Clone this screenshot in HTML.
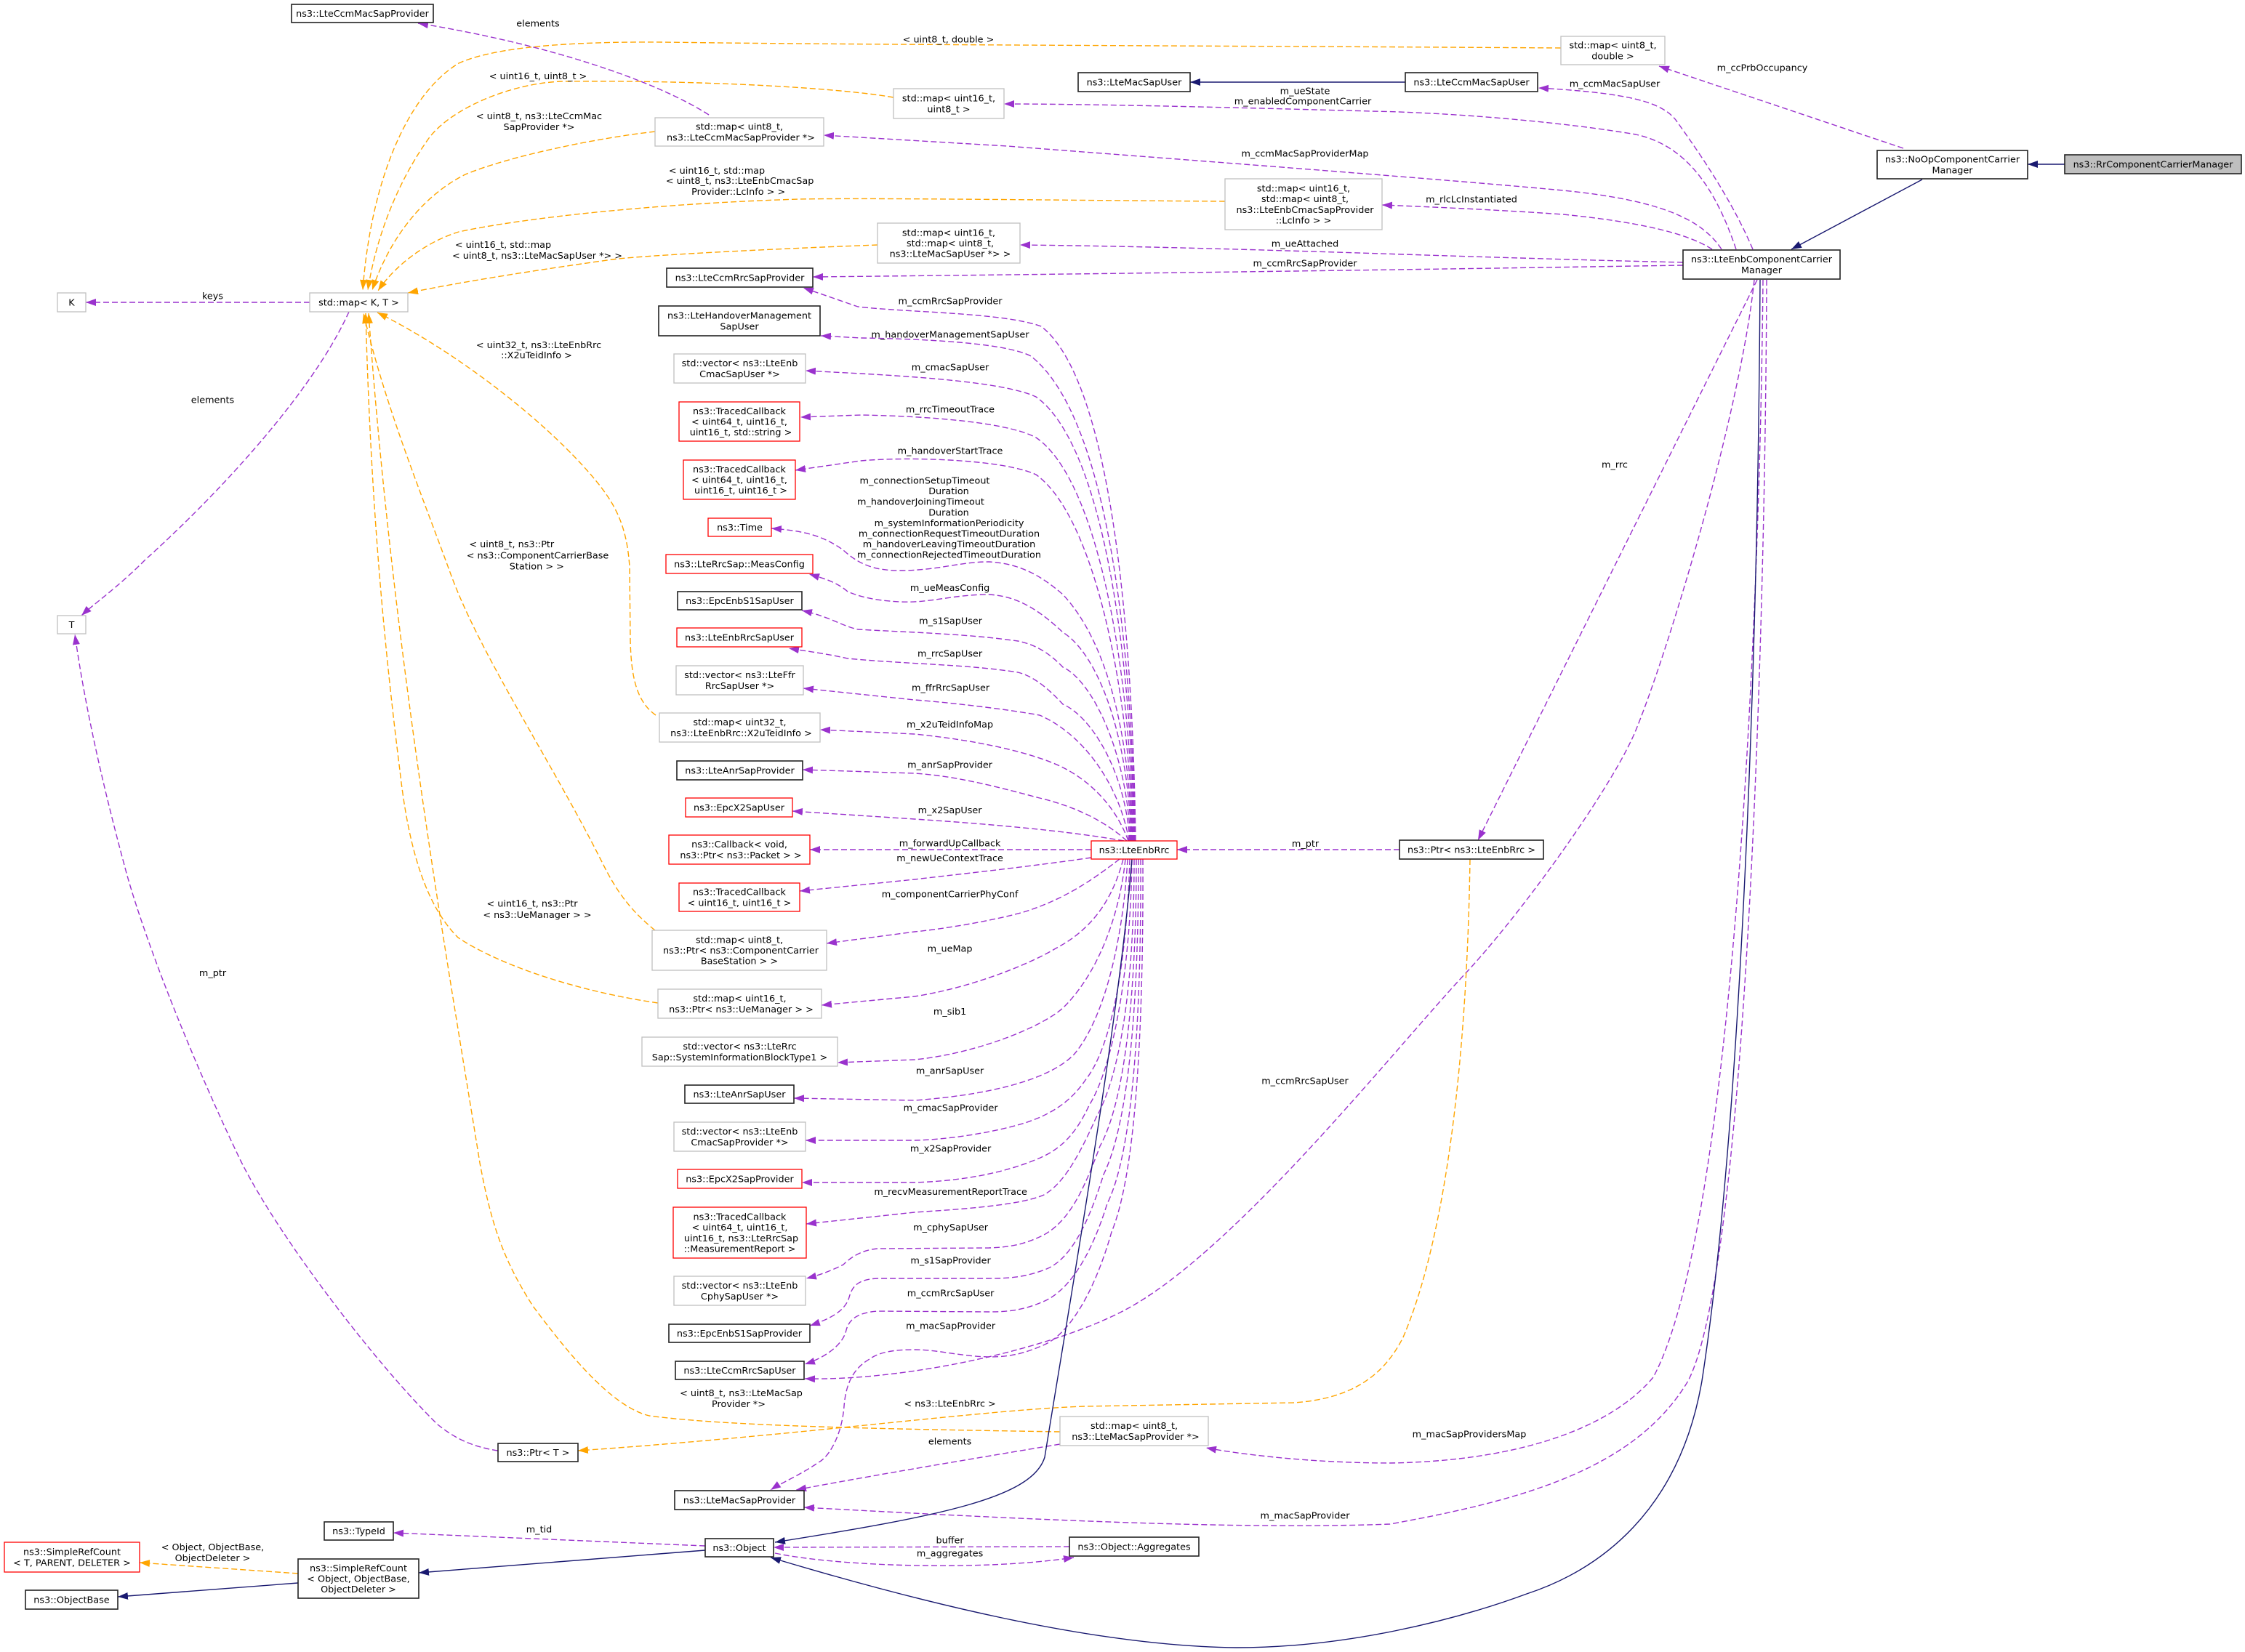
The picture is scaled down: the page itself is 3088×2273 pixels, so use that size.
<!DOCTYPE html>
<html><head><meta charset="utf-8"><style>
html,body{margin:0;padding:0;background:#fff;}
svg{display:block;}
.t{font-family:"DejaVu Sans","Liberation Sans",sans-serif;font-size:12.8px;fill:#000;text-anchor:middle;}
.p{fill:none;stroke:#9a32cd;stroke-width:1.4;stroke-dasharray:8 4;marker-end:url(#ap);}
.o{fill:none;stroke:#ffa500;stroke-width:1.4;stroke-dasharray:8 4;marker-end:url(#ao);}
.n{fill:none;stroke:#191970;stroke-width:1.4;marker-end:url(#an);}
.b{fill:#fff;stroke:#222;stroke-width:1.6;}
.g{fill:#fff;stroke:#bfbfbf;stroke-width:1.3;}
.r{fill:#fff;stroke:#ff0000;stroke-width:1.3;}
</style></head><body>
<svg width="3088" height="2273" viewBox="0 0 3088 2273" xmlns="http://www.w3.org/2000/svg">
<defs>
<marker id="ap" markerUnits="userSpaceOnUse" markerWidth="15" markerHeight="12" refX="14" refY="6" orient="auto" viewBox="0 0 15 12"><path d="M0,1 L14,6 L0,11 Z" fill="#9a32cd"/></marker>
<marker id="ao" markerUnits="userSpaceOnUse" markerWidth="15" markerHeight="12" refX="14" refY="6" orient="auto" viewBox="0 0 15 12"><path d="M0,1 L14,6 L0,11 Z" fill="#ffa500"/></marker>
<marker id="an" markerUnits="userSpaceOnUse" markerWidth="15" markerHeight="12" refX="14" refY="6" orient="auto" viewBox="0 0 15 12"><path d="M0,1 L14,6 L0,11 Z" fill="#191970"/></marker>
</defs>
<rect width="3088" height="2273" fill="#fff"/>

<!-- purple usage edges -->
<path class="p" d="M975,158 C900,110 750,60 575,32"/>
<path class="p" d="M2618,204 L2282,91"/>
<path class="p" d="M2411,343 C2380,270 2330,200 2305,165 C2285,140 2240,128 2116,121"/>
<path class="p" d="M2388,343 C2360,260 2320,200 2250,185 C2150,168 2000,155 1887,153 C1700,148 1500,143 1381,143"/>
<path class="p" d="M2368,343 C2340,300 2280,275 2150,262 C2000,248 1700,225 1385,201 L1133,186"/>
<path class="p" d="M2355,343 C2320,320 2250,305 2150,295 C2050,288 1950,284 1901,282"/>
<path class="p" d="M2315,361 C2000,354 1700,340 1403,337"/>
<path class="p" d="M2315,365 C2000,370 1600,376 1118,381"/>
<path class="p" d="M2417,385 L2033,1156"/>
<path class="p" d="M2413,385 C2395,560 2300,880 2252,1000 C2221,1080 2090,1260 2016,1339 C1916,1446 1700,1720 1550,1801 C1450,1855 1250,1900 1107,1897"/>
<path class="p" d="M2425,385 C2420,900 2380,1700 2274,1895 C2220,1960 2100,2010 1912,2013 C1800,2013 1700,2000 1659,1992"/>
<path class="p" d="M2430,385 C2428,900 2400,1750 2322,1900 C2250,2020 2100,2063 1912,2097 C1700,2105 1400,2090 1106,2074"/>
<path class="p" d="M1925,1169 L1619,1169"/>

<path class="p" d="M1562,1157 C1558,850 1525,520 1432,449 C1380,430 1250,430 1180,422 L1105,396"/>
<path class="p" d="M1561,1157 C1557,870 1520,570 1418,490 C1380,470 1250,466 1184,465 L1129,462"/>
<path class="p" d="M1560,1157 C1556,890 1515,610 1425,546 C1380,525 1250,518 1184,514 L1108,510"/>
<path class="p" d="M1559,1157 C1555,920 1510,660 1425,602 C1380,578 1250,572 1184,571 L1101,574"/>
<path class="p" d="M1558,1157 C1554,950 1505,710 1425,653 C1380,632 1250,628 1184,634 L1094,647"/>
<path class="p" d="M1557,1157 C1553,1000 1520,880 1462,818 C1430,790 1400,775 1360,773 C1320,773 1290,785 1237,785 C1200,785 1180,775 1160,757 C1130,735 1100,730 1061,727"/>
<path class="p" d="M1556,1157 C1552,1010 1510,900 1462,870 C1430,840 1400,820 1360,818 C1310,818 1280,830 1237,828 C1200,826 1180,820 1166,814 C1150,800 1130,795 1113,790"/>
<path class="p" d="M1555,1157 C1550,1030 1500,935 1462,918 C1440,895 1420,886 1400,882 C1330,872 1250,870 1180,866 C1160,862 1140,848 1103,840"/>
<path class="p" d="M1554,1157 C1548,1060 1500,985 1462,969 C1440,945 1420,930 1400,925 C1330,914 1250,914 1166,906 C1140,900 1110,896 1085,892"/>
<path class="p" d="M1553,1157 C1540,1080 1490,1010 1430,984 C1380,975 1300,966 1258,963 L1105,947"/>
<path class="p" d="M1552,1157 C1535,1110 1500,1075 1462,1056 C1420,1035 1340,1018 1258,1010 L1128,1004"/>
<path class="p" d="M1550,1157 C1520,1130 1480,1110 1430,1098 C1380,1085 1320,1068 1258,1064 L1104,1059"/>
<path class="p" d="M1546,1157 C1480,1145 1380,1135 1258,1127 L1090,1116"/>
<path class="p" d="M1501,1169 L1114,1169"/>
<path class="p" d="M1501,1180 C1420,1192 1300,1205 1258,1210 L1100,1226"/>
<path class="p" d="M1540,1182 C1510,1205 1470,1235 1411,1254 C1370,1266 1300,1278 1258,1282 L1137,1298"/>
<path class="p" d="M1545,1182 C1530,1240 1500,1280 1452,1305 C1410,1330 1330,1360 1258,1371 L1130,1383"/>
<path class="p" d="M1548,1182 C1540,1260 1510,1340 1462,1387 C1430,1415 1340,1450 1258,1458 L1152,1462"/>
<path class="p" d="M1551,1182 C1545,1290 1520,1400 1478,1450 C1450,1480 1380,1505 1258,1514 L1092,1511"/>
<path class="p" d="M1554,1182 C1550,1320 1530,1440 1493,1486 C1470,1520 1440,1535 1410,1545 C1360,1560 1300,1568 1258,1569 L1108,1569"/>
<path class="p" d="M1557,1182 C1555,1340 1530,1470 1498,1521 C1480,1560 1460,1580 1431,1593 C1380,1615 1320,1625 1258,1627 L1103,1627"/>
<path class="p" d="M1560,1182 C1560,1360 1540,1480 1508,1537 C1480,1600 1460,1630 1436,1644 C1400,1660 1300,1665 1258,1668 L1109,1684"/>
<path class="p" d="M1563,1182 C1563,1380 1545,1520 1513,1577 C1490,1640 1470,1680 1436,1699 C1410,1712 1390,1716 1360,1717 L1207,1718 C1185,1720 1170,1730 1160,1740 C1140,1750 1125,1755 1109,1759"/>
<path class="p" d="M1566,1182 C1566,1400 1550,1550 1518,1616 C1495,1690 1470,1735 1437,1747 C1410,1757 1390,1759 1360,1759 L1207,1759 C1180,1760 1172,1770 1168,1785 C1162,1805 1140,1815 1114,1824"/>
<path class="p" d="M1569,1182 C1570,1420 1556,1590 1523,1656 C1500,1730 1470,1775 1437,1790 C1410,1802 1390,1805 1360,1805 L1207,1804 C1180,1806 1168,1815 1164,1830 C1160,1850 1135,1868 1107,1877"/>
<path class="p" d="M1572,1182 C1573,1440 1560,1620 1529,1695 C1505,1780 1470,1835 1437,1850 C1410,1862 1390,1867 1360,1867 C1320,1866 1290,1857 1258,1857 C1230,1857 1210,1860 1196,1870 C1170,1885 1163,1910 1161,1935 C1158,1975 1140,2005 1126,2012 C1100,2030 1075,2040 1060,2050"/>
<path class="p" d="M1458,1987 C1350,2005 1200,2030 1095,2050"/>
<path class="p" d="M970,2127 L541,2109"/>
<path class="p" d="M1471,2128 L1064,2129"/>
<path class="p" d="M1066,2137 C1150,2155 1350,2162 1477,2143"/>
<path class="p" d="M480,429 C430,540 300,680 200,770 C160,810 130,830 112,847"/>
<path class="p" d="M426,416 L118,416"/>
<path class="p" d="M685,1996 C645,1990 622,1976 602,1960 C520,1880 385,1705 331,1597 C270,1470 205,1310 175,1205 C145,1095 118,980 103,873"/>

<!-- orange template edges -->
<path class="o" d="M2147,66 C1700,63 1200,62 912,58 C780,57 680,65 631,87 C560,130 510,250 499,399"/>
<path class="o" d="M1229,134 C1150,120 950,110 772,112 C700,115 620,150 590,190 C540,260 515,340 506,399"/>
<path class="o" d="M901,181 C820,190 700,215 640,240 C580,270 535,330 512,399"/>
<path class="o" d="M1685,277 C1500,276 1200,272 1100,274 C900,280 720,300 631,319 C580,335 540,370 520,400"/>
<path class="o" d="M1207,337 C1100,341 900,350 842,357 C750,370 650,385 561,403"/>
<path class="o" d="M902,984 C875,965 868,930 867,880 L866,780 C862,720 845,690 810,650 C740,570 620,480 519,430"/>
<path class="o" d="M901,1280 C870,1255 850,1230 830,1190 C760,1050 660,900 620,790 C580,680 530,560 500,431"/>
<path class="o" d="M905,1380 C800,1365 690,1330 630,1290 C580,1240 560,1150 550,1060 C530,900 510,700 503,431"/>
<path class="o" d="M1458,1970 C1200,1966 1000,1962 893,1948 C840,1935 780,1860 733,1797 C690,1730 675,1680 660,1600 C620,1350 540,900 507,431"/>
<path class="o" d="M2022,1182 C2018,1450 1990,1700 1930,1840 C1900,1900 1850,1925 1780,1930 L1491,1935 C1350,1940 1100,1975 795,1996"/>
<path class="o" d="M410,2165 L192,2150"/>

<!-- navy inheritance edges -->
<path class="n" d="M2840,226 L2789,226"/>
<path class="n" d="M2644,247 L2464,343"/>
<path class="n" d="M1933,113 L1637,113"/>
<path class="n" d="M2421,385 C2418,900 2395,1550 2341,1900 C2310,2080 2200,2160 2100,2193 C2000,2230 1850,2267 1701,2267 C1500,2265 1250,2200 1060,2143"/>
<path class="n" d="M1557,1182 C1540,1400 1470,1800 1437,2005 C1420,2060 1300,2085 1066,2122"/>
<path class="n" d="M970,2133 L576,2164"/>
<path class="n" d="M410,2178 L162,2197"/>

<!-- nodes -->
<rect x="2840" y="213" width="243" height="26" fill="#bfbfbf" stroke="#222" stroke-width="1.6"/>
<rect class="b" x="2582" y="207" width="207" height="39"/>
<rect class="b" x="2315" y="344" width="216" height="40"/>
<rect class="g" x="2147" y="50" width="143" height="39"/>
<rect class="b" x="1933" y="100" width="182" height="26"/>
<rect class="b" x="1483" y="100" width="154" height="26"/>
<rect class="g" x="1229" y="122" width="152" height="41"/>
<rect class="g" x="901" y="162" width="232" height="39"/>
<rect class="g" x="1685" y="246" width="216" height="70"/>
<rect class="g" x="1207" y="307" width="196" height="55"/>
<rect class="b" x="917" y="369" width="201" height="26"/>
<rect class="b" x="906" y="421" width="222" height="41"/>
<rect class="g" x="927" y="487" width="181" height="40"/>
<rect class="r" x="934" y="553" width="166" height="54"/>
<rect class="r" x="940" y="633" width="154" height="54"/>
<rect class="r" x="974" y="713" width="87" height="25"/>
<rect class="r" x="916" y="763" width="202" height="26"/>
<rect class="b" x="932" y="814" width="171" height="25"/>
<rect class="r" x="931" y="864" width="172" height="26"/>
<rect class="g" x="930" y="916" width="175" height="40"/>
<rect class="g" x="907" y="981" width="221" height="40"/>
<rect class="b" x="931" y="1047" width="173" height="26"/>
<rect class="r" x="943" y="1098" width="147" height="26"/>
<rect class="r" x="920" y="1149" width="194" height="40"/>
<rect class="r" x="934" y="1215" width="166" height="39"/>
<rect class="g" x="897" y="1280" width="240" height="55"/>
<rect class="g" x="905" y="1361" width="225" height="40"/>
<rect class="g" x="883" y="1427" width="269" height="40"/>
<rect class="b" x="942" y="1493" width="150" height="25"/>
<rect class="g" x="927" y="1544" width="181" height="40"/>
<rect class="r" x="932" y="1609" width="171" height="26"/>
<rect class="r" x="926" y="1661" width="183" height="70"/>
<rect class="g" x="927" y="1756" width="181" height="40"/>
<rect class="b" x="920" y="1822" width="194" height="25"/>
<rect class="b" x="929" y="1873" width="177" height="25"/>
<rect class="g" x="1458" y="1949" width="204" height="40"/>
<rect class="b" x="928" y="2051" width="178" height="26"/>
<rect class="b" x="685" y="1986" width="110" height="25"/>
<rect class="b" x="446" y="2094" width="95" height="25"/>
<rect class="b" x="970" y="2117" width="94" height="25"/>
<rect class="b" x="1471" y="2115" width="178" height="26"/>
<rect class="b" x="410" y="2145" width="166" height="54"/>
<rect class="r" x="6" y="2122" width="186" height="41"/>
<rect class="b" x="35" y="2188" width="127" height="26"/>
<rect class="g" x="426" y="403" width="135" height="26"/>
<rect class="g" x="79" y="403" width="39" height="26"/>
<rect class="g" x="79" y="847" width="39" height="25"/>
<rect class="r" x="1501" y="1157" width="118" height="25"/>
<rect class="b" x="1925" y="1156" width="198" height="26"/>
<rect class="b" x="401" y="6" width="195" height="25"/>

<!-- node labels -->
<text class="t" x="2961.5" y="230.5">ns3::RrComponentCarrierManager</text>
<text class="t" x="2685.5" y="223.7">ns3::NoOpComponentCarrier</text>
<text class="t" x="2685.5" y="238.3">Manager</text>
<text class="t" x="2423" y="361.2">ns3::LteEnbComponentCarrier</text>
<text class="t" x="2423" y="375.8">Manager</text>
<text class="t" x="2218.5" y="66.7">std::map&lt; uint8_t,</text>
<text class="t" x="2218.5" y="81.3">double &gt;</text>
<text class="t" x="2024" y="117.5">ns3::LteCcmMacSapUser</text>
<text class="t" x="1560" y="117.5">ns3::LteMacSapUser</text>
<text class="t" x="1305" y="139.7">std::map&lt; uint16_t,</text>
<text class="t" x="1305" y="154.3">uint8_t &gt;</text>
<text class="t" x="1017" y="178.7">std::map&lt; uint8_t,</text>
<text class="t" x="1019" y="193.3">ns3::LteCcmMacSapProvider *&gt;</text>
<text class="t" x="1793" y="263.6">std::map&lt; uint16_t,</text>
<text class="t" x="1795" y="278.2">std::map&lt; uint8_t,</text>
<text class="t" x="1795" y="292.8">ns3::LteEnbCmacSapProvider</text>
<text class="t" x="1793" y="307.4">::LcInfo &gt; &gt;</text>
<text class="t" x="1305" y="324.4">std::map&lt; uint16_t,</text>
<text class="t" x="1307" y="339">std::map&lt; uint8_t,</text>
<text class="t" x="1307" y="353.6">ns3::LteMacSapUser *&gt; &gt;</text>
<text class="t" x="1017.5" y="386.5">ns3::LteCcmRrcSapProvider</text>
<text class="t" x="1017" y="438.7">ns3::LteHandoverManagement</text>
<text class="t" x="1017" y="453.3">SapUser</text>
<text class="t" x="1017.5" y="504.2">std::vector&lt; ns3::LteEnb</text>
<text class="t" x="1017.5" y="518.8">CmacSapUser *&gt;</text>
<text class="t" x="1017" y="569.9">ns3::TracedCallback</text>
<text class="t" x="1017" y="584.5">&lt; uint64_t, uint16_t,</text>
<text class="t" x="1019" y="599.1">uint16_t, std::string &gt;</text>
<text class="t" x="1017" y="649.9">ns3::TracedCallback</text>
<text class="t" x="1017" y="664.5">&lt; uint64_t, uint16_t,</text>
<text class="t" x="1019" y="679.1">uint16_t, uint16_t &gt;</text>
<text class="t" x="1017.5" y="730">ns3::Time</text>
<text class="t" x="1017" y="780.5">ns3::LteRrcSap::MeasConfig</text>
<text class="t" x="1017.5" y="831">ns3::EpcEnbS1SapUser</text>
<text class="t" x="1017" y="881.5">ns3::LteEnbRrcSapUser</text>
<text class="t" x="1017.5" y="933.2">std::vector&lt; ns3::LteFfr</text>
<text class="t" x="1017.5" y="947.8">RrcSapUser *&gt;</text>
<text class="t" x="1017.5" y="998.2">std::map&lt; uint32_t,</text>
<text class="t" x="1019.5" y="1012.8">ns3::LteEnbRrc::X2uTeidInfo &gt;</text>
<text class="t" x="1017.5" y="1064.5">ns3::LteAnrSapProvider</text>
<text class="t" x="1016.5" y="1115.5">ns3::EpcX2SapUser</text>
<text class="t" x="1017" y="1166.2">ns3::Callback&lt; void,</text>
<text class="t" x="1019" y="1180.8">ns3::Ptr&lt; ns3::Packet &gt; &gt;</text>
<text class="t" x="1017" y="1231.7">ns3::TracedCallback</text>
<text class="t" x="1017" y="1246.3">&lt; uint16_t, uint16_t &gt;</text>
<text class="t" x="1017" y="1297.4">std::map&lt; uint8_t,</text>
<text class="t" x="1019" y="1312">ns3::Ptr&lt; ns3::ComponentCarrier</text>
<text class="t" x="1017" y="1326.6">BaseStation &gt; &gt;</text>
<text class="t" x="1017.5" y="1378.2">std::map&lt; uint16_t,</text>
<text class="t" x="1019.5" y="1392.8">ns3::Ptr&lt; ns3::UeManager &gt; &gt;</text>
<text class="t" x="1017.5" y="1444.2">std::vector&lt; ns3::LteRrc</text>
<text class="t" x="1017.5" y="1458.8">Sap::SystemInformationBlockType1 &gt;</text>
<text class="t" x="1017" y="1510">ns3::LteAnrSapUser</text>
<text class="t" x="1017.5" y="1561.2">std::vector&lt; ns3::LteEnb</text>
<text class="t" x="1017.5" y="1575.8">CmacSapProvider *&gt;</text>
<text class="t" x="1017.5" y="1626.5">ns3::EpcX2SapProvider</text>
<text class="t" x="1017.5" y="1678.6">ns3::TracedCallback</text>
<text class="t" x="1017.5" y="1693.2">&lt; uint64_t, uint16_t,</text>
<text class="t" x="1019.5" y="1707.8">uint16_t, ns3::LteRrcSap</text>
<text class="t" x="1017.5" y="1722.4">::MeasurementReport &gt;</text>
<text class="t" x="1017.5" y="1773.2">std::vector&lt; ns3::LteEnb</text>
<text class="t" x="1017.5" y="1787.8">CphySapUser *&gt;</text>
<text class="t" x="1017" y="1839">ns3::EpcEnbS1SapProvider</text>
<text class="t" x="1017.5" y="1890">ns3::LteCcmRrcSapUser</text>
<text class="t" x="1560" y="1966.2">std::map&lt; uint8_t,</text>
<text class="t" x="1562" y="1980.8">ns3::LteMacSapProvider *&gt;</text>
<text class="t" x="1017" y="2068.5">ns3::LteMacSapProvider</text>
<text class="t" x="740" y="2003">ns3::Ptr&lt; T &gt;</text>
<text class="t" x="493.5" y="2111">ns3::TypeId</text>
<text class="t" x="1017" y="2134">ns3::Object</text>
<text class="t" x="1560" y="2132.5">ns3::Object::Aggregates</text>
<text class="t" x="493" y="2161.9">ns3::SimpleRefCount</text>
<text class="t" x="493" y="2176.5">&lt; Object, ObjectBase,</text>
<text class="t" x="493" y="2191.1">ObjectDeleter &gt;</text>
<text class="t" x="99" y="2139.7">ns3::SimpleRefCount</text>
<text class="t" x="99" y="2154.3">&lt; T, PARENT, DELETER &gt;</text>
<text class="t" x="98.5" y="2205.5">ns3::ObjectBase</text>
<text class="t" x="493.5" y="420.5">std::map&lt; K, T &gt;</text>
<text class="t" x="98.5" y="420.5">K</text>
<text class="t" x="98.5" y="864">T</text>
<text class="t" x="1560" y="1174">ns3::LteEnbRrc</text>
<text class="t" x="2024" y="1173.5">ns3::Ptr&lt; ns3::LteEnbRrc &gt;</text>
<text class="t" x="498.5" y="23">ns3::LteCcmMacSapProvider</text>

<!-- edge labels -->
<text class="t" x="740" y="36.5">elements</text>
<text class="t" x="1304.5" y="58.5">&lt; uint8_t, double &gt;</text>
<text class="t" x="2424" y="97.5">m_ccPrbOccupancy</text>
<text class="t" x="2221" y="119.5">m_ccmMacSapUser</text>
<text class="t" x="1795" y="129.5">m_ueState</text>
<text class="t" x="1792" y="143.5">m_enabledComponentCarrier</text>
<text class="t" x="740" y="109">&lt; uint16_t, uint8_t &gt;</text>
<text class="t" x="741.5" y="164.2">&lt; uint8_t, ns3::LteCcmMac</text>
<text class="t" x="741.5" y="179">SapProvider *&gt;</text>
<text class="t" x="1795" y="215.5">m_ccmMacSapProviderMap</text>
<text class="t" x="986" y="239.2">&lt; uint16_t, std::map</text>
<text class="t" x="1017.6" y="253">&lt; uint8_t, ns3::LteEnbCmacSap</text>
<text class="t" x="1015.7" y="267.8">Provider::LcInfo &gt; &gt;</text>
<text class="t" x="2024" y="278.5">m_rlcLcInstantiated</text>
<text class="t" x="1795" y="339.5">m_ueAttached</text>
<text class="t" x="1795" y="366.5">m_ccmRrcSapProvider</text>
<text class="t" x="692" y="341.2">&lt; uint16_t, std::map</text>
<text class="t" x="739" y="355.8">&lt; uint8_t, ns3::LteMacSapUser *&gt; &gt;</text>
<text class="t" x="292.5" y="411.5">keys</text>
<text class="t" x="1307" y="418.5">m_ccmRrcSapProvider</text>
<text class="t" x="1307" y="464.5">m_handoverManagementSapUser</text>
<text class="t" x="1307" y="509.5">m_cmacSapUser</text>
<text class="t" x="1307" y="567.5">m_rrcTimeoutTrace</text>
<text class="t" x="1307" y="624.5">m_handoverStartTrace</text>
<text class="t" x="292.5" y="554.5">elements</text>
<text class="t" x="741" y="479">&lt; uint32_t, ns3::LteEnbRrc</text>
<text class="t" x="738" y="492.8">::X2uTeidInfo &gt;</text>
<text class="t" x="1272" y="665.5">m_connectionSetupTimeout</text>
<text class="t" x="1305" y="680.1">Duration</text>
<text class="t" x="1266.5" y="694.7">m_handoverJoiningTimeout</text>
<text class="t" x="1305" y="709.3">Duration</text>
<text class="t" x="1305.5" y="723.9">m_systemInformationPeriodicity</text>
<text class="t" x="1305.5" y="738.5">m_connectionRequestTimeoutDuration</text>
<text class="t" x="1305.5" y="753.1">m_handoverLeavingTimeoutDuration</text>
<text class="t" x="1305.5" y="767.7">m_connectionRejectedTimeoutDuration</text>
<text class="t" x="703.8" y="753">&lt; uint8_t, ns3::Ptr</text>
<text class="t" x="739.5" y="768.3">&lt; ns3::ComponentCarrierBase</text>
<text class="t" x="738.3" y="783.5">Station &gt; &gt;</text>
<text class="t" x="1306.6" y="813.2">m_ueMeasConfig</text>
<text class="t" x="1307.6" y="858.5">m_s1SapUser</text>
<text class="t" x="1306.6" y="903.5">m_rrcSapUser</text>
<text class="t" x="1307.6" y="950.5">m_ffrRrcSapUser</text>
<text class="t" x="1306.6" y="1001.1">m_x2uTeidInfoMap</text>
<text class="t" x="1306.6" y="1056.5">m_anrSapProvider</text>
<text class="t" x="1306.6" y="1118.9">m_x2SapUser</text>
<text class="t" x="1306.6" y="1164.5">m_forwardUpCallback</text>
<text class="t" x="1795.5" y="1165.2">m_ptr</text>
<text class="t" x="1306.6" y="1184.9">m_newUeContextTrace</text>
<text class="t" x="1306.6" y="1234.5">m_componentCarrierPhyConf</text>
<text class="t" x="1306.6" y="1309.5">m_ueMap</text>
<text class="t" x="732" y="1247.5">&lt; uint16_t, ns3::Ptr</text>
<text class="t" x="739" y="1263.1">&lt; ns3::UeManager &gt; &gt;</text>
<text class="t" x="292.5" y="1343.2">m_ptr</text>
<text class="t" x="1306.6" y="1396.2">m_sib1</text>
<text class="t" x="1306.6" y="1477.3">m_anrSapUser</text>
<text class="t" x="1307.6" y="1528.5">m_cmacSapProvider</text>
<text class="t" x="1307.6" y="1584.5">m_x2SapProvider</text>
<text class="t" x="1307.6" y="1644.1">m_recvMeasurementReportTrace</text>
<text class="t" x="1307.6" y="1693.2">m_cphySapUser</text>
<text class="t" x="1307.6" y="1738.5">m_s1SapProvider</text>
<text class="t" x="1307.6" y="1783.5">m_ccmRrcSapUser</text>
<text class="t" x="1307.6" y="1828.5">m_macSapProvider</text>
<text class="t" x="2221" y="643.5">m_rrc</text>
<text class="t" x="1795" y="1491.5">m_ccmRrcSapUser</text>
<text class="t" x="1019.5" y="1921.2">&lt; uint8_t, ns3::LteMacSap</text>
<text class="t" x="1016" y="1935.8">Provider *&gt;</text>
<text class="t" x="1306.6" y="1935.5">&lt; ns3::LteEnbRrc &gt;</text>
<text class="t" x="2021" y="1977.5">m_macSapProvidersMap</text>
<text class="t" x="1306.6" y="1987.5">elements</text>
<text class="t" x="1795" y="2089.5">m_macSapProvider</text>
<text class="t" x="741.5" y="2108.5">m_tid</text>
<text class="t" x="1306.6" y="2123.5">buffer</text>
<text class="t" x="1306.6" y="2141.5">m_aggregates</text>
<text class="t" x="292.5" y="2133.2">&lt; Object, ObjectBase,</text>
<text class="t" x="292.5" y="2147.8">ObjectDeleter &gt;</text>
</svg>
</body></html>
